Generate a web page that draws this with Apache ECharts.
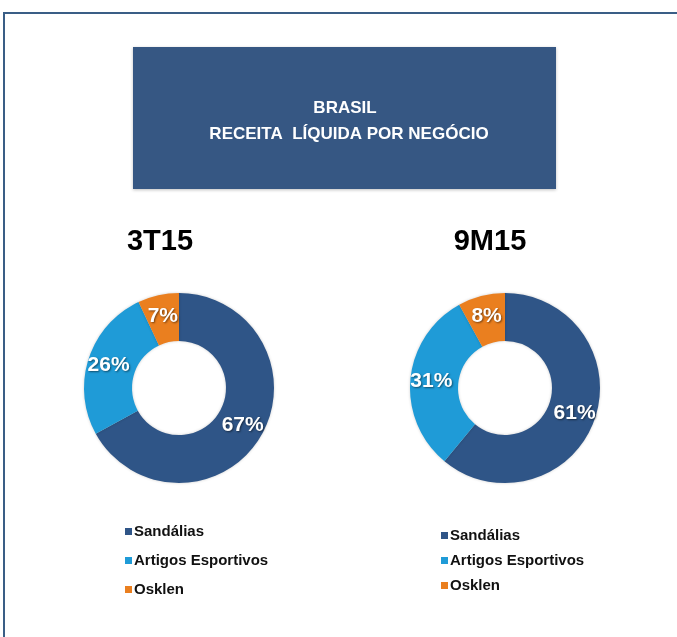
<!DOCTYPE html>
<html>
<head>
<meta charset="utf-8">
<script src="https://cdn.jsdelivr.net/npm/echarts@6/dist/echarts.min.js"></script>
<style>
  html, body { margin: 0; padding: 0; background: #fff; }
  #main { width: 677px; height: 637px; }
</style>
</head>
<body>
<div id="main"></div>
<script>
// dados
var categorias = ['Sandálias', 'Artigos Esportivos', 'Osklen'];
var valores3T15 = [67, 26, 7];
var valores9M15 = [61, 31, 8];
var cores = ['#2F5587', '#1F9BD7', '#EA7F1F'];

var chart = echarts.init(document.getElementById('main'));

function montaDados(vals) {
  return categorias.map(function (c, i) {
    return { name: c, value: vals[i] };
  });
}

var rotulo = {
  show: true,
  position: 'inside',
  formatter: '{c}%',
  color: '#fff',
  fontFamily: 'Liberation Sans, Arial, sans-serif',
  fontWeight: 'bold',
  fontSize: 21,
  textShadowColor: 'rgba(0,0,0,0.5)',
  textShadowBlur: 2,
  textShadowOffsetX: 1,
  textShadowOffsetY: 1
};

var legendaBase = {
  orient: 'vertical',
  icon: 'rect',
  itemWidth: 7,
  itemHeight: 7,
  itemGap: 14,
  selectedMode: false,
  data: categorias,
  textStyle: {
    fontFamily: 'Liberation Sans, Arial, sans-serif',
    fontWeight: 'bold',
    fontSize: 15,
    color: '#111',
    lineHeight: 14,
    padding: [0, 0, 0, -3]
  }
};

chart.setOption({
  color: cores,
  animation: false,
  graphic: [
    // moldura
    { type: 'polyline', shape: { points: [[4, 637], [4, 13], [677, 13]] },
      style: { stroke: '#3A5E86', lineWidth: 2, fill: null } },
    // caixa do titulo
    { type: 'rect', shape: { x: 133, y: 47, width: 423, height: 142 },
      style: { fill: '#365783', shadowColor: 'rgba(0,0,0,0.25)', shadowBlur: 3, shadowOffsetY: 1 } },
    { type: 'text', x: 345, y: 108,
      style: { text: 'BRASIL', fill: '#fff', font: 'bold 17px Liberation Sans, Arial, sans-serif',
               textAlign: 'center', textVerticalAlign: 'middle' } },
    { type: 'text', x: 349, y: 134,
      style: { text: 'RECEITA  LÍQUIDA POR NEGÓCIO', fill: '#fff', font: 'bold 17px Liberation Sans, Arial, sans-serif',
               textAlign: 'center', textVerticalAlign: 'middle' } },
    { type: 'text', x: 160, y: 242,
      style: { text: '3T15', fill: '#000', font: 'bold 29px Liberation Sans, Arial, sans-serif',
               textAlign: 'center', textVerticalAlign: 'middle' } },
    { type: 'text', x: 490, y: 242,
      style: { text: '9M15', fill: '#000', font: 'bold 29px Liberation Sans, Arial, sans-serif',
               textAlign: 'center', textVerticalAlign: 'middle' } }
  ],
  legend: [
    Object.assign({}, legendaBase, { left: 120, top: 519 }),
    Object.assign({}, legendaBase, { left: 436, top: 523, itemGap: 10 })
  ],
  series: [
    {
      name: '3T15',
      type: 'pie',
      center: [179, 388],
      radius: [47, 95],
      startAngle: 90,
      clockwise: true,
      label: rotulo,
      labelLine: { show: false },
      itemStyle: { shadowColor: 'rgba(0,0,0,0.2)', shadowBlur: 3 },
      emphasis: { disabled: true },
      data: montaDados(valores3T15)
    },
    {
      name: '9M15',
      type: 'pie',
      center: [505, 388],
      radius: [47, 95],
      startAngle: 90,
      clockwise: true,
      label: rotulo,
      labelLine: { show: false },
      itemStyle: { shadowColor: 'rgba(0,0,0,0.2)', shadowBlur: 3 },
      emphasis: { disabled: true },
      data: montaDados(valores9M15)
    }
  ]
});
</script>
</body>
</html>
